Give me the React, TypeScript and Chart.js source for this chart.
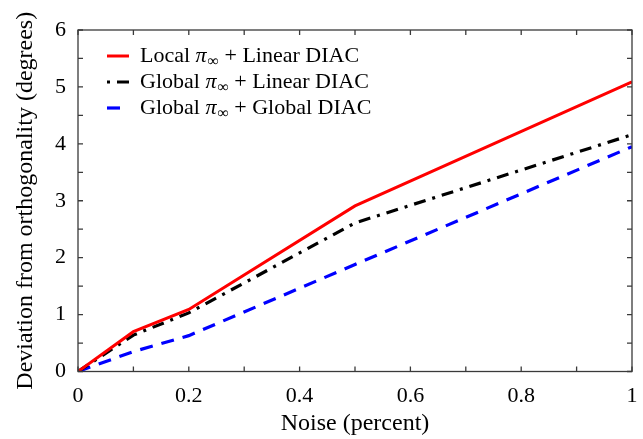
import React, { useEffect, useRef } from "react";
import { Chart, registerables } from "chart.js";

Chart.register(...registerables);

const noise = [0, 0.1, 0.2, 0.5, 1];
const localLinear = [0, 0.7, 1.09, 2.91, 5.09];
const globalLinear = [0, 0.64, 1.03, 2.61, 4.16];
const globalGlobal = [0, 0.35, 0.63, 1.88, 3.95];
const seriesLabels = [
  "Local π∞ + Linear DIAC",
  "Global π∞ + Linear DIAC",
  "Global π∞ + Global DIAC",
];
const xTitle = "Noise (percent)";
const yTitle = "Deviation from orthogonality (degrees)";

const FONT = "'Liberation Serif', 'Times New Roman', serif";

const framePlugin = {
  id: "frameTicks",
  afterDatasetsDraw(chart: any) {
    const { ctx, chartArea } = chart;
    const { left, right, top, bottom } = chartArea;
    const xs = chart.scales.x;
    const ys = chart.scales.y;
    ctx.save();
    ctx.strokeStyle = "#3a3a3a";
    ctx.lineWidth = 1.3;
    ctx.setLineDash([]);
    ctx.strokeRect(left, top, right - left, bottom - top);
    const tl = 5;
    ctx.beginPath();
    xs.ticks.forEach((t: any) => {
      const px = xs.getPixelForValue(t.value);
      ctx.moveTo(px, bottom);
      ctx.lineTo(px, bottom - tl);
      ctx.moveTo(px, top);
      ctx.lineTo(px, top + tl);
    });
    ys.ticks.forEach((t: any) => {
      const py = ys.getPixelForValue(t.value);
      ctx.moveTo(left, py);
      ctx.lineTo(left + tl, py);
      ctx.moveTo(right, py);
      ctx.lineTo(right - tl, py);
    });
    ctx.stroke();
    ctx.restore();
  },
  afterDraw(chart: any) {
    // legend inside the plot area
    const { ctx, chartArea } = chart;
    const x0 = chartArea.left + 29;
    const sampleLen = 22;
    const textX = chartArea.left + 62;
    const fs = 22;
    chart.data.datasets.forEach((ds: any, i: number) => {
      const y = chartArea.top + 26 + i * 26;
      ctx.save();
      ctx.strokeStyle = ds.borderColor;
      ctx.lineWidth = ds.borderWidth;
      ctx.setLineDash(ds.borderDash || []);
      ctx.lineDashOffset = ds.legendDashOffset || 0;
      ctx.beginPath();
      ctx.moveTo(x0, y);
      ctx.lineTo(x0 + sampleLen, y);
      ctx.stroke();
      ctx.restore();

      // text with italic pi and subscript infinity
      const label: string = ds.label;
      const idx = label.indexOf("π∞");
      const before = label.slice(0, idx);
      const after = label.slice(idx + 2);
      ctx.save();
      ctx.fillStyle = "#000";
      ctx.textBaseline = "alphabetic";
      ctx.textAlign = "left";
      const base = y + 6;
      let cx = textX;
      ctx.font = `${fs}px ${FONT}`;
      ctx.fillText(before, cx, base);
      cx += ctx.measureText(before).width;
      ctx.font = `italic ${fs}px ${FONT}`;
      ctx.fillText("π", cx, base);
      cx += ctx.measureText("π").width + 1;
      ctx.font = `${Math.round(fs * 0.72)}px ${FONT}`;
      ctx.fillText("∞", cx, base + 4);
      cx += ctx.measureText("∞").width;
      ctx.font = `${fs}px ${FONT}`;
      ctx.fillText(after, cx, base);
      ctx.restore();
    });
  },
};

export default function App() {
  const ref = useRef<HTMLCanvasElement | null>(null);
  useEffect(() => {
    document.body.style.margin = "0";
    const canvas = ref.current;
    if (!canvas) return;
    const mk = (arr: number[]) => noise.map((x, i) => ({ x, y: arr[i] }));
    const chart = new Chart(canvas, {
      type: "line",
      data: {
        datasets: [
          {
            label: seriesLabels[0],
            data: mk(localLinear),
            borderColor: "#ff0000",
            borderWidth: 3,
            pointRadius: 0,
            tension: 0,
          },
          {
            label: seriesLabels[1],
            data: mk(globalLinear),
            borderColor: "#000000",
            borderWidth: 3.2,
            borderDash: [12, 7, 3, 7],
            legendDashOffset: 19,
            pointRadius: 0,
            tension: 0,
          } as any,
          {
            label: seriesLabels[2],
            data: mk(globalGlobal),
            borderColor: "#0000ff",
            borderWidth: 3.2,
            borderDash: [13, 9],
            pointRadius: 0,
            tension: 0,
          },
        ],
      },
      options: {
        responsive: false,
        animation: false,
        layout: { padding: { top: 30, right: 11, left: 0, bottom: 0 } },
        plugins: {
          legend: { display: false },
          tooltip: { enabled: false },
        },
        scales: {
          x: {
            type: "linear",
            min: 0,
            max: 1,
            grid: { display: false, drawTicks: false },
            border: { display: false },
            ticks: {
              stepSize: 0.1,
              autoSkip: false,
              maxRotation: 0,
              padding: 12,
              color: "#000",
              font: { family: FONT, size: 22 },
              callback: (v: any) => {
                const n = Number(v);
                if (Math.abs(n * 5 - Math.round(n * 5)) > 1e-6) return "";
                return String(Math.round(n * 10) / 10);
              },
            },
            title: {
              display: true,
              text: xTitle,
              color: "#000",
              font: { family: FONT, size: 24 },
              padding: { top: 0, bottom: 1 },
            },
            afterFit: (s: any) => {
              s.height = 67.5;
              s.paddingLeft = 0;
              s.paddingRight = 0;
            },
          },
          y: {
            type: "linear",
            min: 0,
            max: 6,
            grid: { display: false, drawTicks: false },
            border: { display: false },
            ticks: {
              stepSize: 0.5,
              autoSkip: false,
              padding: 12,
              color: "#000",
              font: { family: FONT, size: 22 },
              callback: (v: any) => {
                const n = Number(v);
                if (Math.abs(n - Math.round(n)) > 1e-6) return "";
                return String(Math.round(n));
              },
            },
            title: {
              display: true,
              text: yTitle,
              color: "#000",
              font: { family: FONT, size: 24 },
              padding: { top: 11, bottom: 0 },
            },
            afterFit: (s: any) => {
              s.width = 78;
              s.paddingTop = 0;
              s.paddingBottom = 0;
            },
          },
        },
      },
      plugins: [framePlugin],
    });
    return () => chart.destroy();
  }, []);
  return (
    <div style={{ width: 643, height: 439 }}>
      <canvas ref={ref} width={643} height={439} />
    </div>
  );
}
